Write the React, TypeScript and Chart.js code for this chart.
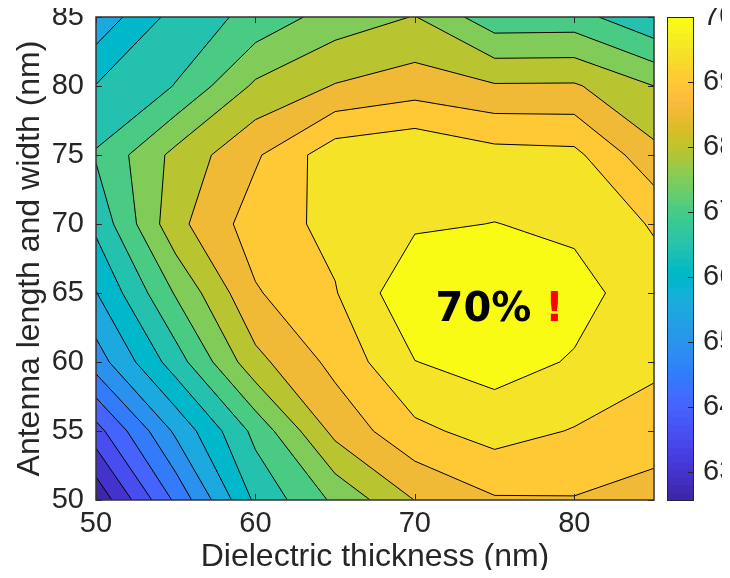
import React, { useEffect, useRef } from "react";
import { Chart, registerables } from "chart.js";

Chart.register(...registerables);

// ---- data (grid) ----
const DIELECTRIC_NM = [50, 55, 60, 65, 70, 75, 80, 85];
const ANTENNA_NM = [50, 55, 60, 65, 70, 75, 80, 85];
// efficiency (%) for each antenna size, columns follow DIELECTRIC_NM
const EFF_ANT_50 = [62.6, 64.6, 66.6, 67.6, 68.51, 68.95, 68.97, 68.77];
const EFF_ANT_55 = [63.8, 65.6, 67.15, 68.65, 69.38, 69.7, 69.47, 69.27];
const EFF_ANT_60 = [65.25, 66.76, 68.35, 69.15, 69.99, 70.2, 69.955, 69.6];
const EFF_ANT_65 = [65.98, 67.55, 68.95, 69.47, 70.41, 70.3, 70.18, 69.72];
const EFF_ANT_70 = [66.62, 68.35, 69.25, 69.64, 69.93, 70.01, 69.9, 69.45];
const EFF_ANT_75 = [67.05, 68.15, 68.93, 69.8, 69.97, 69.68, 69.63, 68.64];
const EFF_ANT_80 = [66.52, 67.02, 68.09, 68.53, 68.75, 68.55, 68.56, 68.0];
const EFF_ANT_85 = [65.65, 66.69, 67.15, 67.73, 68.02, 67.18, 67.2, 66.55];
const EFFICIENCY = [EFF_ANT_50, EFF_ANT_55, EFF_ANT_60, EFF_ANT_65, EFF_ANT_70, EFF_ANT_75, EFF_ANT_80, EFF_ANT_85];

const CONTOUR_LEVELS = [63, 63.5, 64, 64.5, 65, 65.5, 66, 66.5, 67, 67.5, 68, 68.5, 69, 69.5, 70];
const X_RANGE = [50, 85];
const Y_RANGE = [50, 85];
const X_TICK_STEP = 10;
const Y_TICK_STEP = 5;
const CBAR_RANGE = [62.57, 70];
const CBAR_TICK_STEP = 1;
const X_TITLE = "Dielectric thickness (nm)";
const Y_TITLE = "Antenna length and width (nm)";
const NOTE_TEXT = "70%";
const NOTE_MARK = "!";
const NOTE_POS = [71.3, 63.0];

// parula colormap (64 entries)
const PARULA = [
  [0.2422, 0.1504, 0.6603], [0.2504, 0.165, 0.7076], [0.2578, 0.1818, 0.7511], [0.2647, 0.1978, 0.7952],
  [0.2706, 0.2147, 0.8364], [0.2751, 0.2342, 0.871], [0.2783, 0.2559, 0.8991], [0.2803, 0.2782, 0.9221],
  [0.2813, 0.3006, 0.9414], [0.281, 0.3228, 0.9579], [0.2795, 0.3447, 0.9717], [0.276, 0.3667, 0.9829],
  [0.2699, 0.3892, 0.9906], [0.2602, 0.4123, 0.9952], [0.244, 0.4358, 0.9988], [0.2206, 0.4603, 0.9973],
  [0.1963, 0.4847, 0.9892], [0.1834, 0.5074, 0.9798], [0.1786, 0.5289, 0.9682], [0.1764, 0.5499, 0.952],
  [0.1687, 0.5703, 0.9359], [0.154, 0.5902, 0.9218], [0.146, 0.6091, 0.9079], [0.138, 0.6276, 0.8973],
  [0.1248, 0.6459, 0.8883], [0.1113, 0.6635, 0.8763], [0.0952, 0.6798, 0.8598], [0.0689, 0.6948, 0.8394],
  [0.0297, 0.7082, 0.8163], [0.0036, 0.7203, 0.7917], [0.0067, 0.7312, 0.766], [0.0433, 0.7411, 0.7394],
  [0.0964, 0.75, 0.712], [0.1408, 0.7584, 0.6842], [0.1717, 0.767, 0.6554], [0.1938, 0.7758, 0.6251],
  [0.2161, 0.7843, 0.5923], [0.247, 0.7918, 0.5567], [0.2906, 0.7973, 0.5188], [0.3406, 0.8008, 0.4789],
  [0.3909, 0.8029, 0.4354], [0.4456, 0.8024, 0.3909], [0.5044, 0.7993, 0.348], [0.5616, 0.7942, 0.3045],
  [0.6174, 0.7876, 0.2612], [0.672, 0.7793, 0.2227], [0.7242, 0.7698, 0.191], [0.7738, 0.7598, 0.1646],
  [0.8203, 0.7498, 0.1535], [0.8634, 0.7406, 0.1596], [0.9035, 0.733, 0.1774], [0.9393, 0.7288, 0.21],
  [0.9728, 0.7298, 0.2394], [0.9956, 0.7434, 0.2371], [0.997, 0.7659, 0.2199], [0.9952, 0.7893, 0.2028],
  [0.9892, 0.8136, 0.1885], [0.9786, 0.8386, 0.1766], [0.9676, 0.8639, 0.1643], [0.961, 0.889, 0.1537],
  [0.9597, 0.9135, 0.1423], [0.9628, 0.9373, 0.1265], [0.9691, 0.9606, 0.1064], [0.9769, 0.9839, 0.0805],
];

const AXIS_COLOR = "#262626";
const FONT = "'Liberation Sans', Arial, Helvetica, sans-serif";
const W = 730;
const H = 578;

function rgb(c: number[]) {
  return `rgb(${Math.round(c[0] * 255)},${Math.round(c[1] * 255)},${Math.round(c[2] * 255)})`;
}
function colorFor(v: number) {
  const t = (v - CBAR_RANGE[0]) / (CBAR_RANGE[1] - CBAR_RANGE[0]);
  let idx = Math.floor(t * PARULA.length);
  if (idx < 0) idx = 0;
  if (idx > PARULA.length - 1) idx = PARULA.length - 1;
  return rgb(PARULA[idx]);
}

type P3 = [number, number, number];
function cellCorners(i: number, j: number): P3[] {
  return [
    [DIELECTRIC_NM[i], ANTENNA_NM[j], EFFICIENCY[j][i]],
    [DIELECTRIC_NM[i + 1], ANTENNA_NM[j], EFFICIENCY[j][i + 1]],
    [DIELECTRIC_NM[i + 1], ANTENNA_NM[j + 1], EFFICIENCY[j + 1][i + 1]],
    [DIELECTRIC_NM[i], ANTENNA_NM[j + 1], EFFICIENCY[j + 1][i]],
  ];
}
function regionAbove(c: P3[], L: number) {
  const pts: number[][] = [];
  for (let k = 0; k < 4; k++) {
    const a = c[k], b = c[(k + 1) % 4];
    const ina = a[2] >= L, inb = b[2] >= L;
    if (ina) pts.push([a[0], a[1]]);
    if (ina !== inb) {
      const t = (L - a[2]) / (b[2] - a[2]);
      pts.push([a[0] + t * (b[0] - a[0]), a[1] + t * (b[1] - a[1])]);
    }
  }
  return pts;
}
function isoSegments(c: P3[], L: number) {
  const cross: (number[] | null)[] = [];
  let n = 0;
  for (let k = 0; k < 4; k++) {
    const a = c[k], b = c[(k + 1) % 4];
    if ((a[2] >= L) !== (b[2] >= L)) {
      const t = (L - a[2]) / (b[2] - a[2]);
      cross.push([a[0] + t * (b[0] - a[0]), a[1] + t * (b[1] - a[1])]);
      n++;
    } else cross.push(null);
  }
  const segs: number[][][] = [];
  if (n === 2) {
    const p = cross.filter((q) => q) as number[][];
    segs.push([p[0], p[1]]);
  } else if (n === 4) {
    const center = (c[0][2] + c[1][2] + c[2][2] + c[3][2]) / 4;
    if ((center >= L) === (c[0][2] >= L)) {
      segs.push([cross[0]!, cross[1]!], [cross[2]!, cross[3]!]);
    } else {
      segs.push([cross[3]!, cross[0]!], [cross[1]!, cross[2]!]);
    }
  }
  return segs;
}

const contourPlugin = {
  id: "contourFill",
  beforeDatasetsDraw(chart: any) {
    const { ctx, chartArea: a, scales } = chart;
    const xs = scales.x, ys = scales.y;
    const px = (v: number) => xs.getPixelForValue(v);
    const py = (v: number) => ys.getPixelForValue(v);
    ctx.save();
    ctx.beginPath();
    ctx.rect(a.left, a.top, a.right - a.left, a.bottom - a.top);
    ctx.clip();
    ctx.fillStyle = colorFor(CBAR_RANGE[0]);
    ctx.fillRect(a.left, a.top, a.right - a.left, a.bottom - a.top);
    for (const L of CONTOUR_LEVELS) {
      ctx.beginPath();
      for (let j = 0; j < ANTENNA_NM.length - 1; j++) {
        for (let i = 0; i < DIELECTRIC_NM.length - 1; i++) {
          const pts = regionAbove(cellCorners(i, j), L);
          if (pts.length < 3) continue;
          ctx.moveTo(px(pts[0][0]), py(pts[0][1]));
          for (let k = 1; k < pts.length; k++) ctx.lineTo(px(pts[k][0]), py(pts[k][1]));
          ctx.closePath();
        }
      }
      ctx.fillStyle = colorFor(L);
      ctx.fill();
    }
    ctx.strokeStyle = "#000";
    ctx.lineWidth = 1;
    ctx.lineJoin = "round";
    for (const L of CONTOUR_LEVELS) {
      ctx.beginPath();
      for (let j = 0; j < ANTENNA_NM.length - 1; j++) {
        for (let i = 0; i < DIELECTRIC_NM.length - 1; i++) {
          for (const s of isoSegments(cellCorners(i, j), L)) {
            ctx.moveTo(px(s[0][0]), py(s[0][1]));
            ctx.lineTo(px(s[1][0]), py(s[1][1]));
          }
        }
      }
      ctx.stroke();
    }
    // annotation
    ctx.font = "bold 40px 'DejaVu Sans', sans-serif";
    ctx.textBaseline = "alphabetic";
    ctx.textAlign = "left";
    ctx.fillStyle = "#000";
    const tx = px(NOTE_POS[0]), ty = py(NOTE_POS[1]);
    ctx.fillText(NOTE_TEXT, tx, ty);
    const w = ctx.measureText(NOTE_TEXT + " ").width;
    ctx.fillStyle = "#ff0000";
    ctx.fillText(NOTE_MARK, tx + w, ty);
    ctx.restore();
  },
  afterDraw(chart: any) {
    const { ctx, chartArea: a, scales } = chart;
    const xs = scales.x, ys = scales.y, cs = scales.cbar;
    ctx.save();
    // colorbar
    const barL = a.right + 13, barW = 26;
    const n = PARULA.length;
    for (let k = 0; k < n; k++) {
      const v0 = CBAR_RANGE[0] + ((CBAR_RANGE[1] - CBAR_RANGE[0]) * k) / n;
      const v1 = CBAR_RANGE[0] + ((CBAR_RANGE[1] - CBAR_RANGE[0]) * (k + 1)) / n;
      const y0 = cs.getPixelForValue(v0), y1 = cs.getPixelForValue(v1);
      ctx.fillStyle = rgb(PARULA[k]);
      ctx.fillRect(barL, Math.floor(y1), barW, Math.ceil(y0) - Math.floor(y1));
    }
    ctx.strokeStyle = AXIS_COLOR;
    ctx.lineWidth = 1;
    ctx.strokeRect(barL + 0.5, a.top + 0.5, barW, a.bottom - a.top);
    ctx.beginPath();
    for (const t of cs.ticks) {
      const y = Math.round(cs.getPixelForValue(t.value)) + 0.5;
      ctx.moveTo(barL + barW, y);
      ctx.lineTo(barL + barW - 5, y);
    }
    // axes ticks (inward, all four sides)
    const tl = 6;
    for (const t of xs.ticks) {
      const x = Math.round(xs.getPixelForValue(t.value)) + 0.5;
      ctx.moveTo(x, a.bottom);
      ctx.lineTo(x, a.bottom - tl);
      ctx.moveTo(x, a.top);
      ctx.lineTo(x, a.top + tl);
    }
    for (const t of ys.ticks) {
      const y = Math.round(ys.getPixelForValue(t.value)) + 0.5;
      ctx.moveTo(a.left, y);
      ctx.lineTo(a.left + tl, y);
      ctx.moveTo(a.right, y);
      ctx.lineTo(a.right - tl, y);
    }
    ctx.stroke();
    ctx.lineWidth = 1.5;
    ctx.strokeStyle = "#333";
    ctx.strokeRect(a.left, a.top, a.right - a.left, a.bottom - a.top);
    ctx.restore();
  },
};

export default function App() {
  const ref = useRef<HTMLCanvasElement>(null);
  useEffect(() => {
    if (!ref.current) return;
    const tickFont = { family: FONT, size: 29 };
    const titleFont = { family: FONT, size: 32 };
    const chart = new Chart(ref.current, {
      type: "scatter",
      data: { datasets: [] },
      options: {
        responsive: false,
        animation: false,
        devicePixelRatio: 1,
        layout: { padding: { top: 17, left: 0, right: 0, bottom: 0 } },
        plugins: { legend: { display: false }, tooltip: { enabled: false } },
        scales: {
          x: {
            type: "linear",
            position: "bottom",
            min: X_RANGE[0],
            max: X_RANGE[1],
            grid: { display: false, drawTicks: false },
            border: { display: false },
            ticks: { stepSize: X_TICK_STEP, includeBounds: false, font: tickFont, color: AXIS_COLOR, padding: 7, maxRotation: 0, autoSkip: false },
            title: { display: true, text: X_TITLE, font: titleFont, color: AXIS_COLOR, padding: { top: 0, bottom: 2 } },
            afterFit: (s: any) => {
              s.height = 78;
              s.paddingLeft = 0;
              s.paddingRight = 0;
            },
          },
          y: {
            type: "linear",
            position: "left",
            min: Y_RANGE[0],
            max: Y_RANGE[1],
            grid: { display: false, drawTicks: false },
            border: { display: false },
            ticks: { stepSize: Y_TICK_STEP, includeBounds: false, font: tickFont, color: AXIS_COLOR, padding: 12, autoSkip: false },
            title: { display: true, text: Y_TITLE, font: titleFont, color: AXIS_COLOR, padding: { top: 11, bottom: 0 } },
            afterFit: (s: any) => {
              s.width = 96;
              s.paddingTop = 0;
              s.paddingBottom = 0;
            },
          },
          cbar: {
            type: "linear",
            axis: "y",
            position: "right",
            min: CBAR_RANGE[0],
            max: CBAR_RANGE[1],
            grid: { display: false, drawTicks: false },
            border: { display: false },
            ticks: { stepSize: CBAR_TICK_STEP, includeBounds: false, font: tickFont, color: AXIS_COLOR, padding: 49, autoSkip: false },
            afterFit: (s: any) => {
              s.width = 76;
              s.paddingTop = 0;
              s.paddingBottom = 0;
            },
          },
        },
      } as any,
      plugins: [contourPlugin],
    });
    return () => chart.destroy();
  }, []);
  return (
    <div style={{ margin: -8, width: W, height: H }}>
      <canvas ref={ref} width={W} height={H} style={{ display: "block" }} />
    </div>
  );
}
